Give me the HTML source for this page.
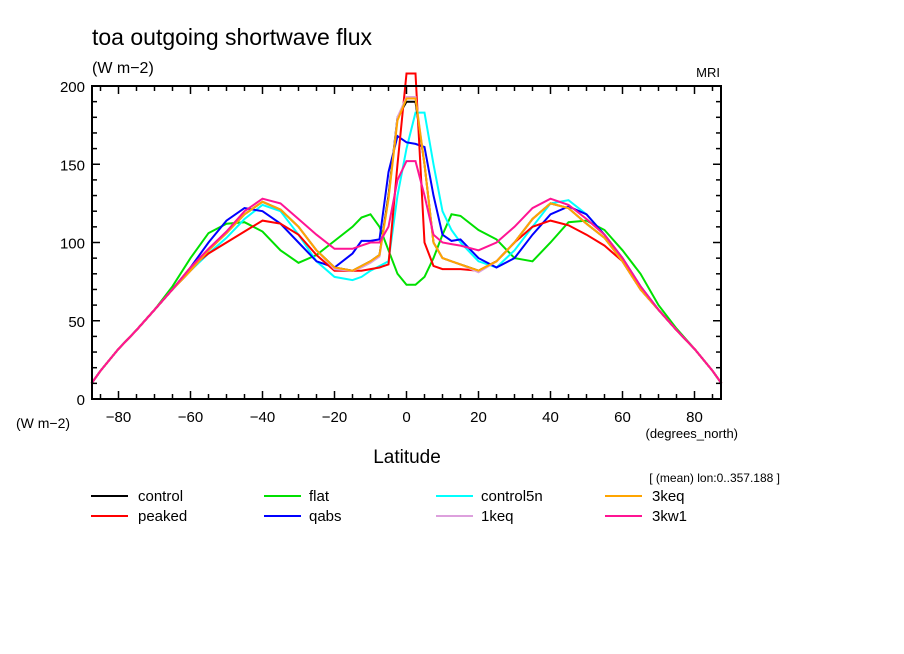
<!DOCTYPE html>
<html><head><meta charset="utf-8"><style>
html,body{margin:0;padding:0;background:#fff;}
svg{display:block;font-family:"Liberation Sans",sans-serif;}
</style></head><body>
<svg id="chart" width="904" height="654" viewBox="0 0 904 654">
<text x="92" y="45" font-size="23">toa outgoing shortwave flux</text>
<text x="92" y="73" font-size="16">(W m−2)</text>
<text x="720" y="77" font-size="13" text-anchor="end">MRI</text>
<text x="16" y="428" font-size="14">(W m−2)</text>
<text x="738" y="438" font-size="13" text-anchor="end">(degrees_north)</text>
<text x="407" y="463" font-size="19" text-anchor="middle">Latitude</text>
<text x="780" y="482" font-size="12" text-anchor="end">[ (mean) lon:0..357.188 ]</text>
<g id="plot"></g>
<g id="axes"></g>
<g id="legend"></g>
</svg>
<script>
const lats=[-87.5,-85,-80,-75,-70,-65,-60,-55,-50,-45,-40,-35,-30,-25,-20,-15,-12.5,-10,-7.5,-5,-2.5,0,2.5,5,7.5,10,12.5,15,20,25,30,35,40,45,50,55,60,65,70,75,80,85,87.5];
const control=[10,18,32,44,57,70,82,95,106,118,126,121,110,95,84,82,85,88,92,130,180,190,190,150,100,90,88,86,82,88,100,115,125,122,112,103,88,70,57,44,32,18,10];
const peaked=[10,18,32,44,57,70,84,93,100,107,114,112,105,92,82,82,82,83,84,86,150,208,208,100,85,83,83,83,82,88,100,110,114,111,105,98,88,70,57,44,32,18,10];
const flat=[10,18,32,44,57,72,90,106,112,113,107,95,87,92,101,110,116,118,110,95,80,73,73,78,90,105,118,117,108,102,90,88,100,113,114,108,95,80,60,45,32,18,10];
const control5n=[10,18,32,44,57,70,82,93,103,115,124,120,105,88,78,76,78,82,85,88,130,160,183,183,150,120,108,100,88,84,95,110,125,127,118,105,90,72,57,44,32,18,10];
const qabs=[10,18,32,44,57,70,84,100,114,122,120,112,100,88,84,93,101,101,102,145,168,164,163,161,130,105,101,102,90,84,90,105,118,123,118,105,90,72,57,44,32,18,10];
const keq1=[10,18,32,44,57,70,82,95,106,118,126,121,110,95,83,82,84,87,91,128,180,193,193,150,100,90,88,86,81,88,100,115,125,122,112,103,88,70,57,44,32,18,10];
const keq3=[10,18,32,44,57,70,82,95,106,118,126,121,110,95,84,82,85,88,92,128,178,192,192,150,100,90,88,86,82,88,100,115,125,122,112,103,88,70,57,44,32,18,10];
const kw1=[10,18,32,44,57,70,84,96,107,120,128,125,115,105,96,96,98,100,100,110,140,152,152,130,105,100,99,98,95,100,110,122,128,124,115,105,90,72,57,44,32,18,10];
const seriesNames=["control","peaked","flat","qabs","control5n","1keq","3keq","3kw1"];
const xTicks=[-80,-60,-40,-20,0,20,40,60,80];
const yTicks=[0,50,100,150,200];

const series=[[control,"#000000"],[peaked,"#ff0000"],[flat,"#00e000"],[qabs,"#0000ff"],[control5n,"#00ffff"],[keq1,"#dda0dd"],[keq3,"#ffa500"],[kw1,"#ff1493"]];
const L=92,R=721,T=86,B=399;
const x=v=>406.5+3.6*v;
const y=v=>B-(v/200)*(B-T);
const NS="http://www.w3.org/2000/svg";
const mk=(t,a,p)=>{const e=document.createElementNS(NS,t);for(const k in a)e.setAttribute(k,a[k]);p.appendChild(e);return e;};
const plot=document.getElementById('plot'),axes=document.getElementById('axes'),leg=document.getElementById('legend');
const drawOrder=[2,4,3,0,1,5,6,7];
drawOrder.forEach(i=>{
  const [d,c]=series[i];
  const pts=d.map((v,j)=>x(lats[j]).toFixed(1)+","+y(v).toFixed(1)).join(" ");
  const pl=mk('polyline',{points:pts,fill:"none",stroke:c,"stroke-width":2,"stroke-linejoin":"miter"},plot);
  
  
});
const fr=mk('rect',{x:L,y:T,width:R-L,height:B-T,fill:"none",stroke:"#000","stroke-width":2},axes);


for(let v=-85;v<=85;v+=5){
  const len=(v%20===0)?8:5;
  mk('line',{x1:x(v),x2:x(v),y1:B,y2:B-len,stroke:"#000","stroke-width":1.5},axes);
  mk('line',{x1:x(v),x2:x(v),y1:T,y2:T+len,stroke:"#000","stroke-width":1.5},axes);
}
xTicks.forEach(v=>{
  const t=mk('text',{x:x(v),y:422,"font-size":15,"text-anchor":"middle"},axes);
  t.textContent=v<0?"−"+Math.abs(v):String(v);
  
  
});
for(let v=10;v<200;v+=10){
  const len=(v%50===0)?8:5;
  mk('line',{x1:L,x2:L+len,y1:y(v),y2:y(v),stroke:"#000","stroke-width":1.5},axes);
  mk('line',{x1:R,x2:R-len,y1:y(v),y2:y(v),stroke:"#000","stroke-width":1.5},axes);
}
yTicks.forEach(v=>{
  const t=mk('text',{x:85,y:y(v)+6,"font-size":15,"text-anchor":"end"},axes);
  t.textContent=String(v);
  
  
});
const legPos=[[91,138,496],[91,138,516],[264,309,496],[264,309,516],[436,481,496],[436,481,516],[605,652,496],[605,652,516]];
const legOrder=[0,1,2,3,4,5,6,7];
legOrder.forEach((i,k)=>{
  const [lx,tx,ly]=legPos[k];
  const g=mk('g',{},leg);
  
  
  mk('line',{x1:lx,x2:lx+37,y1:ly,y2:ly,stroke:series[i][1],"stroke-width":2},g);
  const t=mk('text',{x:tx,y:ly+5,"font-size":15},g);
  t.textContent=seriesNames[i];
});
</script>
</body></html>
